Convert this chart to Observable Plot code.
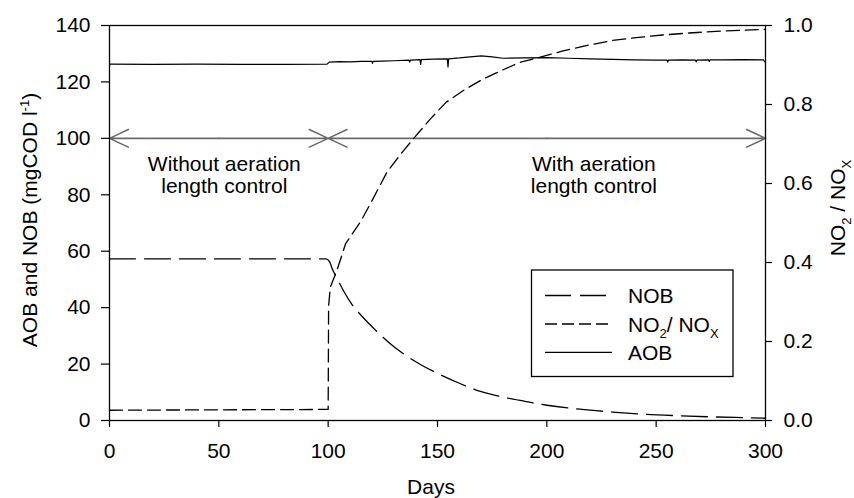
<!DOCTYPE html>
<html><head><meta charset="utf-8">
<script src="https://cdn.jsdelivr.net/npm/d3@7"></script>
<script src="https://cdn.jsdelivr.net/npm/@observablehq/plot@0.6"></script>
<style>body{margin:0;background:#fff} svg{display:block}</style>
</head><body><div id="chart"></div>
<script>
// ---- data ----
const nobDays   = [0, 99, 100.5, 102, 104, 107, 111, 116, 121, 128, 136, 143, 150, 160, 170, 180, 190, 200, 215, 230, 245, 260, 275, 290, 300];
const nobValues = [57.3, 57.3, 56.5, 53.5, 50.5, 46, 41, 36.5, 32.5, 27.5, 22.8, 19.5, 16.7, 13.2, 10.2, 8.3, 6.8, 5.4, 4.0, 3.0, 2.2, 1.7, 1.3, 1.0, 0.8];

const ratioDays   = [0, 50, 100, 100.2, 101, 104, 108, 115, 120, 127, 134, 140, 147, 154, 162, 170, 180, 188, 197, 207, 218, 230, 242, 253, 265, 280, 300];
const ratioValues = [0.026, 0.027, 0.028, 0.29, 0.338, 0.38, 0.448, 0.505, 0.556, 0.63, 0.68, 0.72, 0.765, 0.806, 0.836, 0.862, 0.888, 0.907, 0.92, 0.935, 0.949, 0.962, 0.970, 0.976, 0.981, 0.986, 0.990];

const aobDays   = [0, 20, 40, 60, 80, 99.5, 100.5, 105, 110, 115, 120, 120.3, 120.6, 125, 130, 137, 137.3, 137.6, 142, 142.3, 142.6, 148, 154.5, 154.8, 155.1, 160, 165, 170, 175, 180, 190, 200, 210, 220, 230, 240, 250, 255, 255.3, 255.6, 262, 268, 268.3, 268.6, 274, 274.3, 274.6, 280, 290, 299, 300];
const aobValues = [126.3, 126.2, 126.3, 126.2, 126.2, 126.3, 127.0, 127.2, 127.1, 127.3, 127.3, 126.6, 127.3, 127.4, 127.5, 127.7, 127.0, 127.7, 127.9, 126.2, 127.9, 128.1, 128.2, 125.3, 128.2, 128.5, 128.9, 129.2, 128.9, 128.4, 128.5, 128.6, 128.4, 128.2, 128.0, 127.8, 127.7, 127.7, 127.0, 127.7, 127.8, 127.7, 127.1, 127.7, 127.8, 127.2, 127.8, 127.8, 127.9, 127.8, 126.8];

const xTicks      = [0, 50, 100, 150, 200, 250, 300];
const yLeftTicks  = [0, 20, 40, 60, 80, 100, 120, 140];
const yRightTicks = [0, 0.2, 0.4, 0.6, 0.8, 1.0];
const leftMax = 140, rightMax = 1.0;

const phaseSpans = [[0, 100], [100, 300]];
const phaseLevel = 100;
const phaseNotes = [
  {day: 52.5, level: 86.9, text: "Without aeration\nlength control"},
  {day: 221.5, level: 86.9, text: "With aeration\nlength control"}
];

// ---- build rows ----
const toLeft = r => r / rightMax * leftMax;
const nob = nobDays.map((d, i) => ({day: d, v: nobValues[i]}));
const ratio = ratioDays.map((d, i) => ({day: d, v: toLeft(ratioValues[i])}));
const aob = aobDays.map((d, i) => ({day: d, v: aobValues[i]}));
const arrows = phaseSpans.flatMap(([a, b]) => {
  const m = (a + b) / 2;
  return [{x1: m, x2: a, y: phaseLevel}, {x1: m, x2: b, y: phaseLevel}];
});

const FONT = "'Liberation Sans', Arial, Helvetica, sans-serif";
const FS = 21;

const svg = Plot.plot({
  width: 854, height: 498,
  marginLeft: 109, marginRight: 89, marginTop: 25, marginBottom: 78,
  style: {fontFamily: FONT, fontSize: FS + "px", color: "#000", background: "#fff"},
  x: {domain: [0, 300]},
  y: {domain: [0, leftMax]},
  marks: [
    Plot.axisX({ticks: xTicks, tickSize: 7, tickPadding: 16, label: null, fontSize: FS, stroke: "#000", strokeWidth: 1.2}),
    Plot.axisY({anchor: "left", ticks: yLeftTicks, tickSize: 8, tickPadding: 11, label: null, fontSize: FS, strokeWidth: 1.2}),
    Plot.axisY({anchor: "right", ticks: yRightTicks.map(toLeft), tickFormat: d => (d / leftMax * rightMax).toFixed(1),
                tickSize: 6, tickPadding: 12, label: null, fontSize: FS, strokeWidth: 1.2}),
    Plot.arrow(arrows, {x1: "x1", y1: "y", x2: "x2", y2: "y", stroke: "#6a6a6a", strokeWidth: 1.6, headLength: 19.5, headAngle: 50}),
    Plot.text(phaseNotes, {x: "day", y: "level", text: "text", fontSize: FS, lineHeight: 1.05, textAnchor: "middle", fill: "#000"}),
    Plot.line(nob, {x: "day", y: "v", stroke: "#000", strokeWidth: 1.3, strokeDasharray: "26,9", curve: "monotone-x"}),
    Plot.line(ratio, {x: "day", y: "v", stroke: "#000", strokeWidth: 1.3, strokeDasharray: "13,6", curve: "linear"}),
    Plot.line(aob, {x: "day", y: "v", stroke: "#000", strokeWidth: 1.2, curve: "linear"}),
    Plot.frame({stroke: "#000", strokeWidth: 1.3})
  ]
});

const s = d3.select(svg);
// Axis titles
const lt = s.append("text").attr("transform", "translate(29,220) rotate(-90)")
  .attr("text-anchor", "middle").attr("dy", "0.36em").attr("font-size", FS).attr("fill", "#000");
lt.append("tspan").text("AOB and NOB (mgCOD l");
lt.append("tspan").attr("dy", -8).attr("font-size", 13).text("-1");
lt.append("tspan").attr("dy", 8).text(")");

const rt = s.append("text").attr("transform", "translate(837,208) rotate(-90)")
  .attr("text-anchor", "middle").attr("dy", "0.36em").attr("font-size", FS).attr("fill", "#000");
rt.append("tspan").text("NO");
rt.append("tspan").attr("dy", 6).attr("font-size", 13).text("2");
rt.append("tspan").attr("dy", -6).text(" / NO");
rt.append("tspan").attr("dy", 6).attr("font-size", 13).text("X");

s.append("text").attr("x", 431).attr("y", 494).attr("text-anchor", "middle")
  .attr("font-size", FS).attr("fill", "#000").text("Days");

// Legend
const lg = s.append("g");
lg.append("rect").attr("x", 531.5).attr("y", 270).attr("width", 201.5).attr("height", 106.5)
  .attr("fill", "#fff").attr("stroke", "#000").attr("stroke-width", 1.3);
const rows = [
  {label: "NOB", dash: "26,9", y: 295.5},
  {label: "ratio", dash: "12,5", y: 324},
  {label: "AOB", dash: null, y: 352.3}
];
rows.forEach(r => {
  const ln = lg.append("line").attr("x1", 545).attr("x2", 612).attr("y1", r.y).attr("y2", r.y)
    .attr("stroke", "#000").attr("stroke-width", 1.3);
  if (r.dash) ln.attr("stroke-dasharray", r.dash);
  const t = lg.append("text").attr("x", 628).attr("y", r.y).attr("dy", "0.36em")
    .attr("text-anchor", "start").attr("font-size", FS).attr("fill", "#000");
  if (r.label === "ratio") {
    t.append("tspan").text("NO");
    t.append("tspan").attr("dy", 6).attr("font-size", 13).text("2");
    t.append("tspan").attr("dy", -6).text("/ NO");
    t.append("tspan").attr("dy", 6).attr("font-size", 13).text("X");
  } else {
    t.text(r.label);
  }
});

document.getElementById("chart").appendChild(svg);
</script>
</body></html>
